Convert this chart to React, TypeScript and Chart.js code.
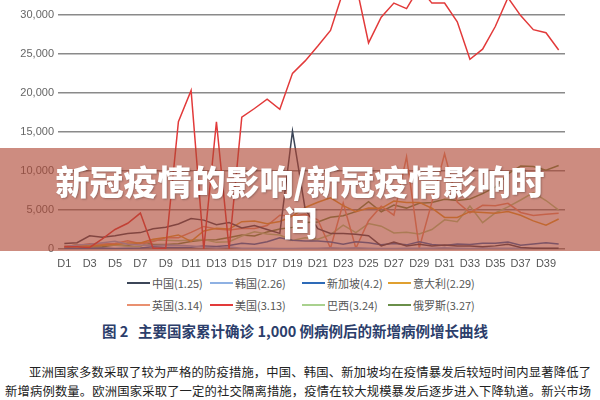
import React, { useEffect, useRef } from "react";
import { Chart, registerables } from "chart.js";

Chart.register(...registerables);

const labels = [
  "D1","D2","D3","D4","D5","D6","D7","D8","D9","D10",
  "D11","D12","D13","D14","D15","D16","D17","D18","D19","D20",
  "D21","D22","D23","D24","D25","D26","D27","D28","D29","D30",
  "D31","D32","D33","D34","D35","D36","D37","D38","D39","D40",
];

const yTicks = [0, 5000, 10000, 15000, 20000, 25000, 30000];

const seriesNames = ["中国(1.25)", "韩国(2.26)", "新加坡(4.2)", "意大利(2.29)", "英国(3.14)", "美国(3.13)", "巴西(3.24)", "俄罗斯(3.27)"];
const seriesColors = ["#3c4658", "#8fb1e3", "#2e6bb8", "#e0a030", "#e99070", "#e23a3a", "#a9d18e", "#6a8f4a"];

const china = [700, 800, 1700, 1500, 1700, 2000, 2100, 2600, 2800, 3200, 3900, 3700, 3100, 3400, 2700, 3000, 2500, 2000, 15100, 5100, 2600, 2000, 2000, 1900, 1700, 400, 900, 400, 600, 400, 500, 400, 400, 300, 400, 600, 200, 100, 100, 100];
const korea = [300, 500, 600, 800, 1000, 600, 500, 450, 500, 480, 370, 250, 130, 240, 110, 110, 100, 80, 75, 85, 90, 150, 90, 150, 100, 65, 75, 100, 105, 90, 145, 105, 80, 125, 100, 90, 85, 95, 80, 50];
const singapore = [50, 65, 75, 120, 70, 105, 140, 290, 200, 190, 230, 390, 330, 450, 730, 620, 940, 1430, 1110, 1020, 1040, 900, 620, 930, 800, 530, 690, 530, 930, 570, 450, 630, 570, 740, 750, 880, 490, 650, 790, 640];
const italy = [240, 570, 340, 470, 590, 770, 780, 1250, 1490, 1800, 980, 2310, 2650, 2550, 3500, 3590, 3230, 3530, 4210, 5320, 5990, 6560, 5560, 4790, 5250, 5210, 6150, 5960, 5970, 5220, 4050, 4050, 4780, 4670, 4590, 4810, 4320, 3600, 3040, 3840];
const uk = [340, 410, 680, 640, 710, 1040, 670, 970, 1430, 1450, 2130, 2890, 2550, 2430, 2620, 2620, 3010, 4320, 4240, 4450, 3740, 100, 5900, 100, 3630, 5490, 4340, 11800, 100, 6000, 12200, 6000, 4620, 5600, 5530, 5850, 4680, 4300, 4450, 4580];
const usa = [300, 300, 200, 1300, 2500, 3300, 4600, 100, 100, 16300, 20300, 0, 16300, 0, 16900, 18000, 19200, 17900, 22500, 24100, 26000, 28000, 33000, 34000, 26400, 29700, 31500, 30800, 33500, 31500, 31500, 29100, 24300, 25600, 28500, 32200, 29900, 28100, 27700, 25500];
const brazil = [350, 230, 480, 500, 490, 350, 320, 1140, 1120, 1070, 1150, 1220, 850, 930, 1660, 2210, 1930, 1780, 1090, 1440, 1260, 1830, 3060, 2110, 3260, 2920, 2060, 2140, 1930, 2500, 3740, 3500, 5510, 3380, 4610, 5390, 6280, 7220, 6210, 4970];
const russia = [200, 230, 270, 300, 500, 440, 770, 600, 580, 660, 950, 1150, 1180, 1460, 1790, 1670, 2190, 2560, 2770, 3390, 3450, 4070, 4270, 4790, 6060, 4770, 5640, 5240, 5850, 5970, 6360, 6200, 6410, 7100, 7930, 9620, 10630, 10580, 10100, 10700];

const seriesData = [china, korea, singapore, italy, uk, usa, brazil, russia];

const CJK = '"Noto Sans CJK SC", "Liberation Sans", sans-serif';
const LAT = '"Liberation Sans", "Noto Sans CJK SC", sans-serif';

function LineChart() {
  const ref = useRef<HTMLCanvasElement | null>(null);
  useEffect(() => {
    if (!ref.current) return;
    const chart = new Chart(ref.current, {
      type: "line",
      data: {
        labels,
        datasets: seriesData.map((d, i) => ({
          label: seriesNames[i],
          data: d,
          borderColor: seriesColors[i],
          backgroundColor: seriesColors[i],
          borderWidth: 1.5,
          pointRadius: 0,
          tension: 0,
          fill: false,
          order: i === 5 ? 0 : i === 0 ? 1 : 2 + i,
        })),
      },
      options: {
        animation: false,
        responsive: false,
        maintainAspectRatio: false,
        layout: { padding: { left: 0, right: 35, top: 0, bottom: 0 } },
        plugins: { legend: { display: false }, tooltip: { enabled: false } },
        scales: {
          x: {
            offset: true,
            grid: { display: false, drawTicks: false },
            border: { display: false },
            ticks: {
              autoSkip: false,
              maxRotation: 0,
              padding: 8,
              color: "#555",
              font: { family: LAT, size: 11 },
              callback: (_v: any, i: number) => (i % 2 === 0 ? labels[i] : ""),
            },
            afterFit: (s: any) => {
              s.height = 24;
              s.paddingLeft = 0;
              s.paddingRight = 0;
            },
          },
          y: {
            min: 0,
            max: 31900,
            grid: { color: "#8a8a8a", lineWidth: 1.6, drawTicks: false },
            border: { display: false },
            afterBuildTicks: (s: any) => {
              s.ticks = yTicks.map((v) => ({ value: v }));
            },
            ticks: {
              padding: 4,
              color: "#666",
              font: { family: LAT, size: 11 },
              callback: (v: any) => Number(v).toLocaleString("en-US"),
            },
            afterFit: (s: any) => {
              s.width = 58;
              s.paddingTop = 0;
              s.paddingBottom = 0;
            },
          },
        },
      },
    });
    return () => chart.destroy();
  }, []);
  return (
    <canvas
      ref={ref}
      width={600}
      height={273}
      style={{ position: "absolute", left: 0, top: 0, width: 600, height: 273 }}
    />
  );
}

const legendCols = [127, 210, 302, 388];
const legendRows = [283, 305];

export default function App() {
  return (
    <div
      style={{
        position: "fixed",
        left: 0,
        top: 0,
        width: 600,
        height: 400,
        background: "#fff",
        overflow: "hidden",
      }}
    >
      <LineChart />
      {seriesNames.map((name, i) => {
        const col = i % 4;
        const row = Math.floor(i / 4);
        return (
          <div
            key={name}
            style={{
              position: "absolute",
              left: legendCols[col],
              top: legendRows[row] - 8,
              height: 16,
              display: "flex",
              alignItems: "center",
              whiteSpace: "nowrap",
              fontFamily: CJK,
              fontSize: 11,
              color: "#555",
            }}
          >
            <span style={{ display: "inline-block", width: 23, height: 2, background: seriesColors[i], marginRight: 2 }} />
            <span>{name}</span>
          </div>
        );
      })}
      <div
        style={{
          position: "absolute",
          left: 0,
          top: 148,
          width: 600,
          height: 103,
          background: "rgba(175,70,50,0.62)",
        }}
      />
      <div
        style={{
          position: "absolute",
          left: 0,
          top: 160,
          width: 600,
          textAlign: "center",
          color: "#fff",
          fontFamily: CJK,
          fontWeight: 900,
          fontSize: 34,
          lineHeight: "41px",
          textShadow: "1px 1px 2px rgba(0,0,0,0.25)",
        }}
      >
        新冠疫情的影响/新冠疫情影响时
        <br />
        间
      </div>
      <div
        style={{
          position: "absolute",
          left: 0,
          top: 321,
          width: 590,
          textAlign: "center",
          color: "#2c3e6b",
          fontFamily: CJK,
          fontWeight: 700,
          fontSize: 14.5,
          lineHeight: "20px",
          whiteSpace: "nowrap",
        }}
      >
        图 2&nbsp;&nbsp;&nbsp;主要国家累计确诊 1,000 例病例后的新增病例增长曲线
      </div>
      <div
        style={{
          position: "absolute",
          left: 29,
          top: 363,
          width: 562,
          fontFamily: CJK,
          fontSize: 12.3,
          lineHeight: "18px",
          color: "#222",
          whiteSpace: "nowrap",
          textAlign: "justify",
          textAlignLast: "justify",
        }}
      >
        亚洲国家多数采取了较为严格的防疫措施，中国、韩国、新加坡均在疫情暴发后较短时间内显著降低了
      </div>
      <div
        style={{
          position: "absolute",
          left: 5,
          top: 382,
          width: 586,
          fontFamily: CJK,
          fontSize: 12.3,
          lineHeight: "18px",
          color: "#222",
          whiteSpace: "nowrap",
          textAlign: "justify",
          textAlignLast: "justify",
        }}
      >
        新增病例数量。欧洲国家采取了一定的社交隔离措施，疫情在较大规模暴发后逐步进入下降轨道。新兴市场
      </div>
    </div>
  );
}
